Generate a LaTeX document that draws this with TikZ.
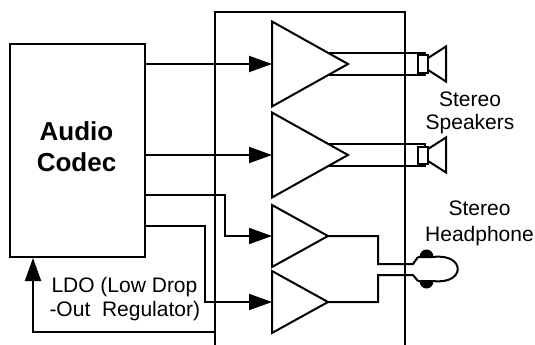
\documentclass[tikz,border=0pt]{standalone}
\usepackage{fontspec}
\setmainfont{Liberation Sans}
\usetikzlibrary{arrows.meta}
\begin{document}
\begin{tikzpicture}[x=1pt,y=-1pt,line width=2pt,
  arr/.style={-{Triangle[length=23pt,width=16pt]}},
  lbl/.style={font=\fontsize{21}{25}\selectfont,anchor=base,inner sep=0pt},
  bigl/.style={font=\fontsize{26}{31}\selectfont\bfseries,anchor=base,inner sep=0pt},
  pad/.style={fill=black,line width=1pt}]
\useasboundingbox (0,0) rectangle (535,345);
% codec box
\node[draw,line width=2pt,minimum width=135pt,minimum height=213pt,anchor=north west,inner sep=0pt] (codec) at (9,43) {};
\node[bigl] (audio) at (76.5,140) {Audio};
\node[bigl] (codectxt) at (76.5,171.5) {Codec};
% big box
\coordinate (bbl) at (215,345); \coordinate (bbtl) at (215,12);
\coordinate (bbtr) at (405,12); \coordinate (bbr) at (405,345);
\draw (bbl) -- (bbtl) -- (bbtr) -- (bbr);
% amplifiers
\draw (272,21.5) -- (348,64) coordinate (a1o) -- (272,106.5) -- cycle;
\coordinate (a1in) at (272,64);
\draw (272,112.5) -- (348,155) coordinate (a2o) -- (272,197.5) -- cycle;
\coordinate (a2in) at (272,155);
\draw (272,205) -- (328,236) coordinate (a3o) -- (272,267) -- cycle;
\coordinate (a3in) at (272,236);
\draw (272,271) -- (328,302) coordinate (a4o) -- (272,333) -- cycle;
\coordinate (a4in) at (272,302);
% codec outputs
\draw[arr] (codec.east |- a1in) -- (a1in);
\draw[arr] (codec.east |- a2in) -- (a2in);
\coordinate (c3) at (144,195);
\draw[arr] (c3) -- (225,195) -- (225,236) -- (a3in);
\coordinate (c4) at (144,226);
\draw[arr] (c4) -- (205,226) -- (205,302) -- (a4in);
% LDO feedback
\coordinate (ldo) at (215,332);
\draw[arr] (ldo) -- (33,332) -- (codec.south -| 33,0);
\node[lbl,anchor=base west] (ldo1) at (50.5,292.5) {LDO (Low Drop};
\node[lbl,anchor=base west] (ldo2) at (48.5,316.5) {-Out\ \ Regulator)};
% speakers
\foreach \cy in {64,155}{
  \draw (328.3,\cy-11) -- (425,\cy-11) -- (425,\cy-8.5);
  \draw (328.3,\cy+11) -- (425,\cy+11) -- (425,\cy+8.5);
  \draw (418,\cy-8.5) rectangle (428,\cy+8.5);
  \draw (428,\cy-6) -- (446,\cy-17.5) -- (446,\cy+17.5) -- (428,\cy+6);
}
\node[lbl] (st1) at (470,106) {Stereo};
\node[lbl] (spk) at (470,129.5) {Speakers};
% headphone
\draw (a3o) -- (378,236) -- (378,264) -- (413,264) -- (418,257);
\draw (a4o) -- (378,302) -- (378,275) -- (413,275) -- (418,281);
\draw[pad] (420,257) arc[start angle=180,end angle=360,x radius=6.5,y radius=7] -- cycle;
\draw[pad] (420,281) arc[start angle=180,end angle=0,x radius=6.5,y radius=7] -- cycle;
\draw (418,257) -- (433,257) .. controls (466,253) and (466,285) .. (433,281) -- (418,281);
\node[lbl] (st2) at (479.5,215.5) {Stereo};
\node[lbl] (hp) at (479.5,241.7) {Headphone};
\end{tikzpicture}
\end{document}
